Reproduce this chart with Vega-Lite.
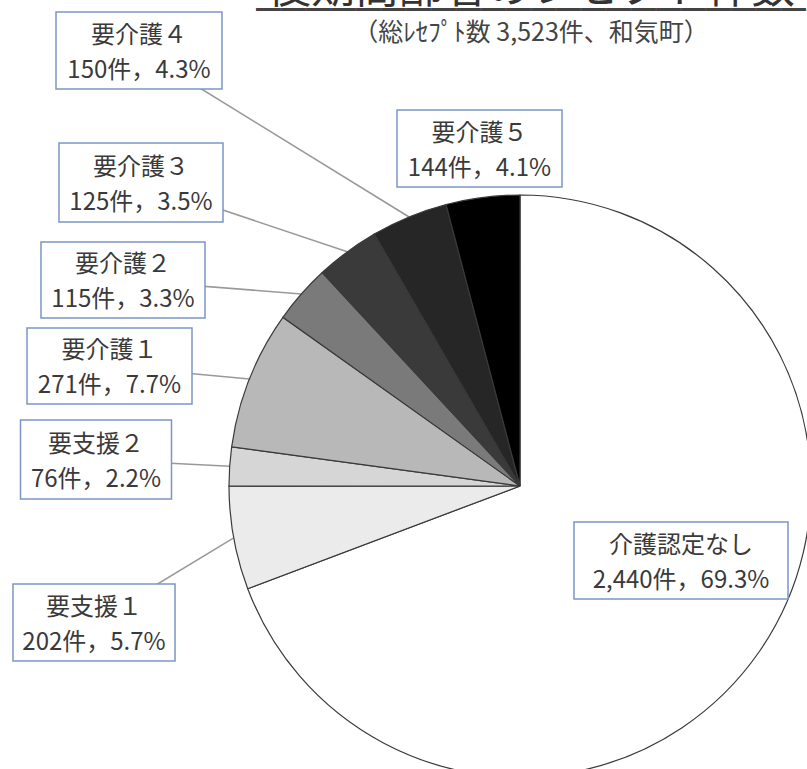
{
  "$schema": "https://vega.github.io/schema/vega-lite/v6.json",
  "width": 574,
  "height": 566,
  "autosize": {"type": "none"},
  "padding": {"left": 233, "top": 203, "right": 0, "bottom": 0},
  "background": "white",
  "config": {"view": {"stroke": null}},
  "title": {
    "text": "後期高齢者のレセプト件数",
    "subtitle": ["━━━━━━━━━━━━━━━━━━━━━━", "（総ﾚｾﾌﾟﾄ数 3,523件、和気町）"],
    "frame": "group",
    "anchor": "middle",
    "dx": 11,
    "offset": -37,
    "font": "Noto Sans CJK JP",
    "fontSize": 44,
    "fontWeight": "normal",
    "color": "#333333",
    "subtitleFont": "Noto Sans CJK JP",
    "subtitleFontSize": 25,
    "subtitleColor": "#444444",
    "subtitleLineHeight": 22,
    "subtitlePadding": -13
  },
  "data": {
    "values": [
      {"no": 1, "cat": "介護認定なし", "count": 2440, "pct": 69.3, "label": "介護認定なし\n2,440件，69.3%"},
      {"no": 2, "cat": "要支援１", "count": 202, "pct": 5.7, "label": "要支援１\n202件，5.7%"},
      {"no": 3, "cat": "要支援２", "count": 76, "pct": 2.2, "label": "要支援２\n76件，2.2%"},
      {"no": 4, "cat": "要介護１", "count": 271, "pct": 7.7, "label": "要介護１\n271件，7.7%"},
      {"no": 5, "cat": "要介護２", "count": 115, "pct": 3.3, "label": "要介護２\n115件，3.3%"},
      {"no": 6, "cat": "要介護３", "count": 125, "pct": 3.5, "label": "要介護３\n125件，3.5%"},
      {"no": 7, "cat": "要介護４", "count": 150, "pct": 4.3, "label": "要介護４\n150件，4.3%"},
      {"no": 8, "cat": "要介護５", "count": 144, "pct": 4.1, "label": "要介護５\n144件，4.1%"}
    ]
  },
  "layer": [
    {
      "mark": {"type": "point", "shape": "M0,0H2", "filled": false, "stroke": "#999999", "strokeWidth": 1.5, "opacity": 1},
      "encoding": {
        "x": {"field": "count", "type": "quantitative", "axis": null,
              "scale": {"zero": false, "nice": false, "domain": [76, 115, 125, 144, 150, 202, 271, 2440], "range": [-137, -110, -92, 246.5, -94, -139, -123.5, 448]}},
        "y": {"field": "count", "type": "quantitative", "axis": null,
              "scale": {"zero": false, "nice": false, "domain": [76, 115, 125, 144, 150, 202, 271, 2440], "range": [256.5, 77, -20.5, -54.5, -152.5, 419.5, 163, 357.5]}},
        "angle": {"field": "count", "type": "quantitative", "legend": null,
                  "scale": {"zero": false, "nice": false, "domain": [76, 115, 125, 144, 150, 202, 271, 2440], "range": [2.87, 4.46, 18.57, 0, 31.65, -31.17, 5.27, 0]}},
        "size": {"field": "count", "type": "quantitative", "legend": null,
                 "scale": {"zero": false, "nice": false, "domain": [76, 115, 125, 144, 150, 202, 271, 2440], "range": [17929, 32005, 47350, 0, 100679, 26667, 19740, 0]}}
      }
    },
    {
      "mark": {"type": "arc", "radius": 291, "stroke": "#3a3a3a", "strokeWidth": 1.2},
      "encoding": {
        "theta": {"field": "count", "type": "quantitative", "stack": true},
        "order": {"field": "no", "type": "quantitative"},
        "color": {"field": "cat", "type": "nominal", "legend": null,
                  "scale": {"domain": ["介護認定なし", "要支援１", "要支援２", "要介護１", "要介護２", "要介護３", "要介護４", "要介護５"],
                            "range": ["#ffffff", "#ebebeb", "#d6d6d6", "#b8b8b8", "#7a7a7a", "#3a3a3a", "#262626", "#000000"]}}
      }
    },
    {
      "mark": {"type": "point", "filled": true, "fill": "white", "stroke": "#7b96c4", "strokeWidth": 1.5, "opacity": 1, "size": 27225},
      "encoding": {
        "x": {"field": "count", "type": "quantitative", "axis": null},
        "y": {"field": "count", "type": "quantitative", "axis": null},
        "shape": {"field": "cat", "type": "nominal", "legend": null,
                  "scale": {"domain": ["介護認定なし", "要支援１", "要支援２", "要介護１", "要介護２", "要介護３", "要介護４", "要介護５"],
                            "range": ["M-1.297,-0.467H1.297V0.467H-1.297Z", "M-0.982,-0.467H0.982V0.467H-0.982Z", "M-0.915,-0.479H0.915V0.479H-0.915Z", "M-1,-0.461H1V0.461H-1Z", "M-0.994,-0.461H0.994V0.461H-0.994Z", "M-0.994,-0.479H0.994V0.479H-0.994Z", "M-1.006,-0.467H1.006V0.467H-1.006Z", "M-1,-0.467H1V0.467H-1Z"]}}
      }
    },
    {
      "mark": {"type": "text", "font": "Noto Sans CJK JP", "fontSize": 24, "lineHeight": 35, "lineBreak": "\n", "color": "#3a3a3a", "align": "center", "baseline": "middle", "dy": -15},
      "encoding": {
        "x": {"field": "count", "type": "quantitative", "axis": null},
        "y": {"field": "count", "type": "quantitative", "axis": null},
        "text": {"field": "label", "type": "nominal"}
      }
    }
  ]
}
